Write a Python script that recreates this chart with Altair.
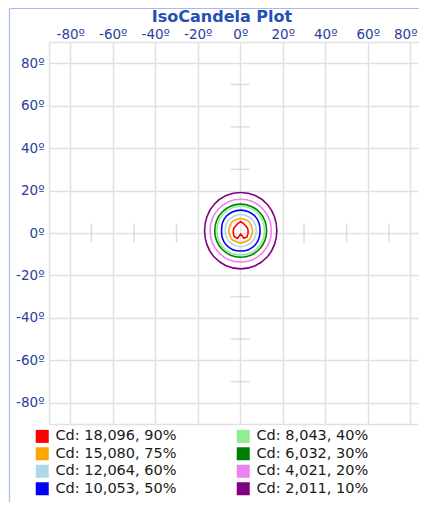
import altair as alt
import pandas as pd
import numpy as np

# ---- data ----
levels = ["Cd: 18,096, 90%", "Cd: 15,080, 75%", "Cd: 12,064, 60%", "Cd: 10,053, 50%",
          "Cd: 8,043, 40%", "Cd: 6,032, 30%", "Cd: 4,021, 20%", "Cd: 2,011, 10%"]
colors = ["#ff0000", "#ffa500", "#add8e6", "#0000ff",
          "#90ee90", "#008000", "#ee82ee", "#800080"]

# contour radius (degrees) at each polar angle around the beam centre
angles_deg = [0, 22.5, 45, 67.5, 90, 112.5, 135, 157.5,
              180, 202.5, 225, 247.5, 270, 292.5, 315, 337.5]
radius_90 = [3.5, 3.4, 3.3, 3.6, 4.3, 3.6, 3.3, 3.4, 3.5, 3.7, 4.2, 3.9, 1.6, 3.9, 4.2, 3.7]
radius_75 = [5.6, 5.5, 5.8, 5.6, 5.7, 5.6, 5.8, 5.5, 5.6, 5.5, 5.8, 5.6, 5.7, 5.6, 5.8, 5.5]
radius_60 = [7.3, 7.4, 7.5, 7.5, 7.6, 7.5, 7.5, 7.4, 7.3, 7.4, 7.5, 7.5, 7.6, 7.5, 7.5, 7.4]
radius_50 = [9.1, 9.3, 9.6, 9.7, 9.7, 9.7, 9.6, 9.3, 9.0, 9.3, 9.6, 9.7, 9.6, 9.7, 9.6, 9.3]
radius_40 = [11.2, 11.3, 11.4, 11.5, 11.5, 11.5, 11.4, 11.3, 11.2, 11.3, 11.4, 11.5, 11.5, 11.5, 11.4, 11.3]
radius_30 = [12.2, 12.3, 12.4, 12.5, 12.5, 12.5, 12.4, 12.3, 12.2, 12.3, 12.4, 12.5, 12.5, 12.5, 12.4, 12.3]
radius_20 = [14.4, 14.5, 14.6, 14.8, 14.8, 14.8, 14.6, 14.5, 14.4, 14.5, 14.6, 14.8, 14.8, 14.8, 14.6, 14.5]
radius_10 = [17.0, 17.2, 17.6, 17.9, 18.0, 17.9, 17.6, 17.2, 17.0, 17.2, 17.6, 17.9, 18.0, 17.9, 17.6, 17.2]
centre_h, centre_v = 0.2, 1.1

tick_values = [-80, -60, -40, -20, 0, 20, 40, 60, 80]
minor_ticks = [-70, -50, -30, 30, 50, 70]

# ---- tables ----
all_radii = [radius_90, radius_75, radius_60, radius_50, radius_40, radius_30, radius_20, radius_10]
rows = []
for lab, rr in zip(levels, all_radii):
    for i, (a, r) in enumerate(zip(angles_deg, rr)):
        t = np.deg2rad(a)
        rows.append({"label": lab, "idx": i,
                     "h": centre_h + r * np.cos(t),
                     "v": centre_v + r * np.sin(t)})
contours = pd.DataFrame(rows)
red_df = contours[contours.label == levels[0]]
other_df = contours[contours.label != levels[0]]
keys_df = pd.DataFrame({"label": levels, "h": [centre_h] * len(levels),
                        "v": [centre_v] * len(levels)})

ticks_h = pd.DataFrame({"h": minor_ticks, "v": [0] * len(minor_ticks)})
ticks_v = pd.DataFrame({"h": [0] * len(minor_ticks), "v": minor_ticks})

# ---- chart ----
FONT = "DejaVu Sans"
LBL = "#2a3f9c"
GRID = "#e1e1e1"
label_expr = "abs(datum.value) >= 90 ? '' : datum.value + 'º'"
grid_vals = [-90] + tick_values + [90]

xs = alt.Scale(domain=[-90, 84.1], nice=False, zero=False)
ys = alt.Scale(domain=[-90, 90], nice=False, zero=False)

xaxis = alt.Axis(orient="top", values=grid_vals, labelExpr=label_expr, grid=True,
                 ticks=False, domain=False, title=None, labelFont=FONT, labelFontSize=13.5,
                 labelColor=LBL, labelPadding=1, gridColor=GRID, gridWidth=1.5,
                 labelAngle=0, labelOverlap=False, labelFlush=False,
                 labelOffset={"condition": {"test": "datum.value == 80", "value": -5},
                              "value": 0})
yaxis = alt.Axis(orient="left", values=grid_vals, labelExpr=label_expr, grid=True,
                 ticks=False, domain=False, title=None, labelFont=FONT, labelFontSize=13.5,
                 labelColor=LBL, labelPadding=5, gridColor=GRID, gridWidth=1.5,
                 labelOverlap=False, labelFlush=False)

X = alt.X("h:Q", scale=xs, axis=xaxis)
Y = alt.Y("v:Q", scale=ys, axis=yaxis)

color = alt.Color("label:N", scale=alt.Scale(domain=levels, range=colors),
                  legend=alt.Legend(orient="none", legendX=-14, legendY=387, columns=2,
                                    columnPadding=59, rowPadding=2.5, symbolType="square",
                                    symbolSize=169, symbolStrokeWidth=0,
                                    labelFontSize=14.5, labelOffset=6, labelFont=FONT,
                                    labelColor="#1a1a1a", title=None, padding=0,
                                    labelLimit=0))

# invisible filled squares: give the legend filled swatches
keys = alt.Chart(keys_df).mark_square(size=0, filled=True, opacity=1).encode(
    x=X, y=Y, color=color)
others = alt.Chart(other_df).mark_line(interpolate="cardinal-closed", strokeWidth=1.6).encode(
    x=X, y=Y, color=color, order="idx:Q")
red = alt.Chart(red_df).mark_line(interpolate="linear-closed", strokeWidth=1.6).encode(
    x=X, y=Y, color=color, order="idx:Q")
tick_style = dict(color="#cfcfcf", thickness=1.5, size=19)
tk_h = alt.Chart(ticks_h).mark_tick(orient="vertical", **tick_style).encode(x=X, y=Y)
tk_v = alt.Chart(ticks_v).mark_tick(orient="horizontal", **tick_style).encode(x=X, y=Y)

frame_df = pd.DataFrame({"a": [0]})
frame_left = alt.Chart(frame_df).mark_rule(color="#a3bcf5", strokeWidth=1.2).encode(
    x=alt.value(-39.5), y=alt.value(-33.5), y2=alt.value(460))
frame_top = alt.Chart(frame_df).mark_rule(color="#a3bcf5", strokeWidth=1.2).encode(
    x=alt.value(-39.5), x2=alt.value(370), y=alt.value(-33.5))

chart = alt.layer(keys, tk_h, tk_v, others, red, frame_left, frame_top).properties(
    width=370, height=382,
    title=alt.Title("IsoCandela Plot", fontSize=16, font=FONT, fontWeight="bold",
                    color="#2450b4", anchor="middle", frame="group", dx=-12, dy=19,
                    offset=2),
    autosize=alt.AutoSizeParams(type="none"),
    padding={"left": 41, "top": 34, "right": 0, "bottom": 80},
).configure_view(strokeWidth=0)

chart.save("out.html", embed_options={"renderer": "svg", "actions": False})
